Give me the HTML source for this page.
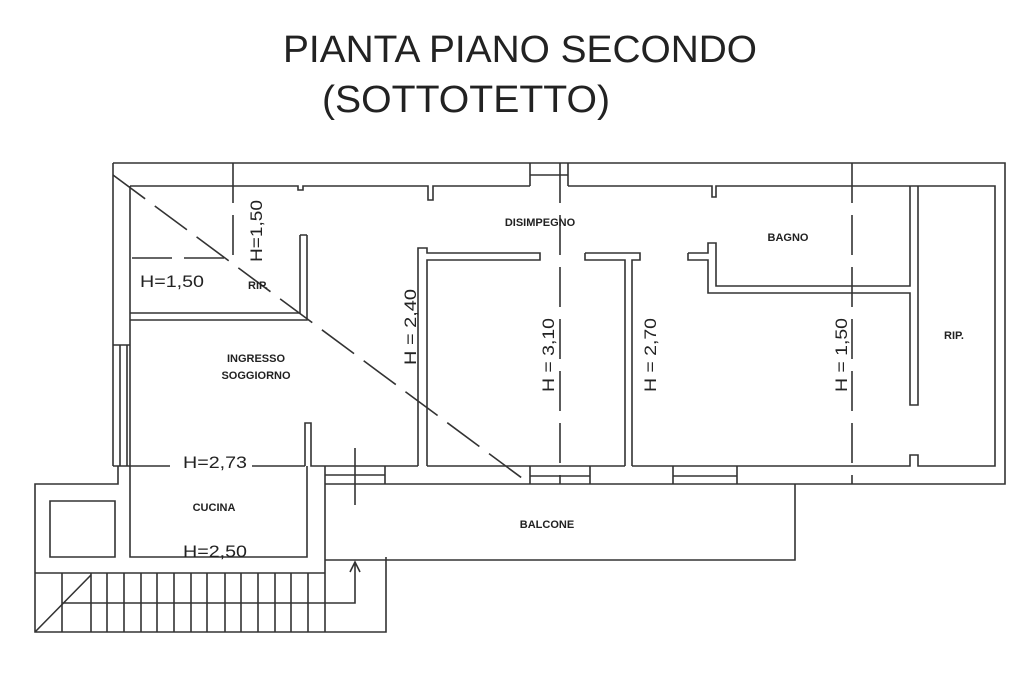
<!DOCTYPE html>
<html><head><meta charset="utf-8"><style>
html,body{margin:0;padding:0;background:#fff;}
svg{display:block;}
text{font-family:"Liberation Sans",sans-serif;fill:#222;}
.s{font-weight:bold;font-size:11px;}
.h{font-size:17px;}
</style></head><body>
<svg width="1024" height="683" viewBox="0 0 1024 683" xmlns="http://www.w3.org/2000/svg">
<rect width="1024" height="683" fill="#fff"/>
<text x="283" y="62" font-size="38" textLength="474" lengthAdjust="spacingAndGlyphs">PIANTA PIANO SECONDO</text>
<text x="322" y="112" font-size="38" textLength="288" lengthAdjust="spacingAndGlyphs">(SOTTOTETTO)</text>

<g fill="none" stroke="#333" stroke-width="1.6">
<path d="M113,163 H1005 V484 H795"/>
<path d="M113,163 V466"/>
<path d="M130,186 H298 V190 H303 V186 H428 V200 H433 V186 H530 M568,186 H712 V197 H716 V186 H995 V466 H918 V455 H910 V466 H632 M625,466 H427 M418,466 H311 V423 H305 V466"/>
<path d="M530,163 V186 M568,163 V186 M530,175 H568"/>
<path d="M130,186 V466 M120,345 V466 M127,345 V466 M113,345 H130"/>
<path d="M300,235 V313 H130 M307,235 V320 H130 M300,235 H307"/>
<path d="M418,466 V248 H427 V253 H540 V260 H427 V466"/>
<path d="M585,253 H640 V260 H632 V466 M625,466 V260 H585 V253"/>
<path d="M688,253 H708 V243 H716 V286 H910 V186 M918,186 V405 H910 V293 H708 V260 H688 V253"/>
<path d="M530,466 V484 M590,466 V484 M530,476 H590 M673,466 V484 M737,466 V484 M673,476 H737"/>
<path d="M325,484 H795"/>
<path d="M325,466 V484 M385,466 V484 M325,475 H385"/>
<path d="M118,466 V484 H35 V632 H386 V557 M130,466 V557 H307 V466 M50,501 H115 V557 H50 Z M35,573 H325"/>
<path d="M113,466 H170 M252,466 H305"/>
<path d="M325,484 V632 M325,560 H795 V484"/>
<path d="M62,573 V632 M91,573 V632 M107,573 V632 M124,573 V632 M141,573 V632 M157,573 V632 M174,573 V632 M191,573 V632 M207,573 V632 M225,573 V632 M241,573 V632 M258,573 V632 M275,573 V632 M291,573 V632 M308,573 V632"/>
<path d="M62,603 H355 V562 M350,572 L355,562 L360,572 M35,632 L91,575"/>
<path d="M355,448 V505"/>
</g>
<g fill="none" stroke="#333" stroke-width="1.6" stroke-dasharray="40,12">
<path d="M233,163 V258 H130"/>
<path d="M560,163 V484"/>
<path d="M852,163 V484"/>
<path d="M113,175 L530,484"/>
</g>

<text class="h" x="140" y="287" textLength="64" lengthAdjust="spacingAndGlyphs">H=1,50</text>
<text class="s" x="248" y="289" font-size="9">RIP.</text>
<text class="h" transform="translate(262,262) rotate(-90)" textLength="62" lengthAdjust="spacingAndGlyphs">H=1,50</text>
<text class="s" x="256" y="362" text-anchor="middle">INGRESSO</text>
<text class="s" x="256" y="379" text-anchor="middle">SOGGIORNO</text>
<text class="h" transform="translate(416,365) rotate(-90)" textLength="76" lengthAdjust="spacingAndGlyphs">H = 2,40</text>
<text class="s" x="540" y="226" text-anchor="middle" font-size="10">DISIMPEGNO</text>
<text class="s" x="788" y="241" text-anchor="middle" font-size="10">BAGNO</text>
<text class="h" transform="translate(554,392) rotate(-90)" textLength="74" lengthAdjust="spacingAndGlyphs">H = 3,10</text>
<text class="h" transform="translate(656,392) rotate(-90)" textLength="74" lengthAdjust="spacingAndGlyphs">H = 2,70</text>
<text class="h" transform="translate(847,392) rotate(-90)" textLength="74" lengthAdjust="spacingAndGlyphs">H = 1,50</text>
<text class="s" x="954" y="339" text-anchor="middle" font-size="10">RIP.</text>
<text class="h" x="183" y="468" textLength="64" lengthAdjust="spacingAndGlyphs">H=2,73</text>
<text class="s" x="214" y="511" text-anchor="middle">CUCINA</text>
<text class="h" x="183" y="557" textLength="64" lengthAdjust="spacingAndGlyphs">H=2,50</text>
<text class="s" x="547" y="528" text-anchor="middle">BALCONE</text>
</svg>
</body></html>
